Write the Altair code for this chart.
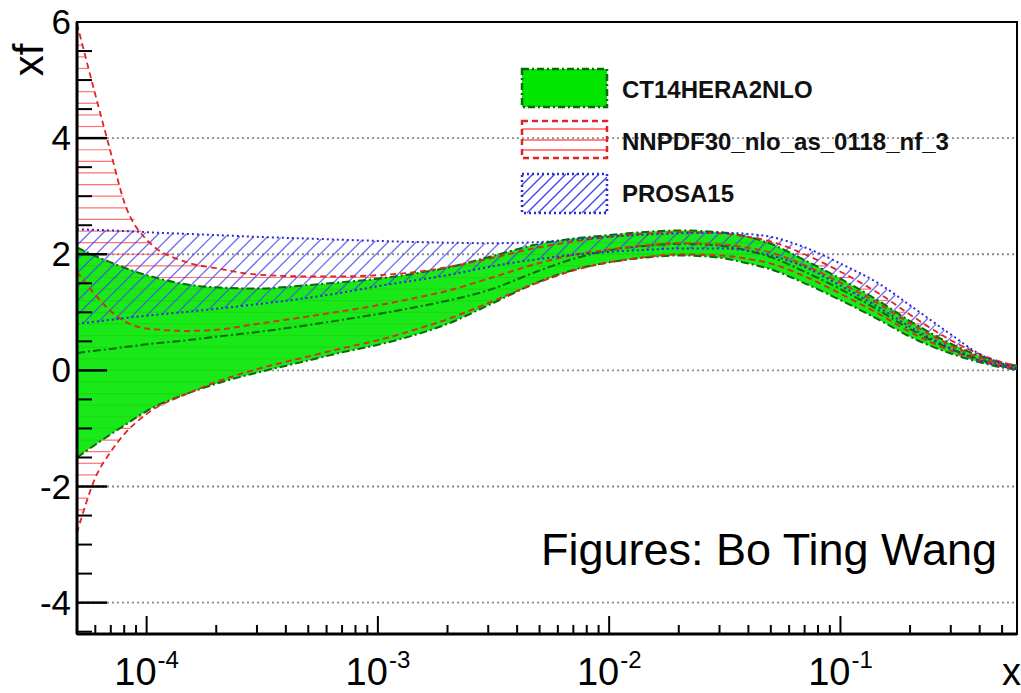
import numpy as np
import pandas as pd
import altair as alt

# ---------------- data ----------------
x_pts = [5e-5, 6e-5, 7e-5, 8e-5, 1e-4, 1.5e-4, 2e-4, 3e-4, 5e-4, 7e-4,
         1e-3, 1.5e-3, 2e-3, 3e-3, 5e-3, 7e-3, 1e-2, 1.5e-2, 2e-2, 3e-2,
         4e-2, 5e-2, 7e-2, 1e-1, 1.5e-1, 2e-1, 3e-1, 4e-1, 5e-1, 5.8e-1]

ct14_hi = [2.12, 1.97, 1.86, 1.77, 1.64, 1.48, 1.43, 1.41, 1.47, 1.52,
           1.58, 1.68, 1.77, 1.95, 2.18, 2.27, 2.33, 2.39, 2.41, 2.38,
           2.30, 2.18, 1.90, 1.58, 1.17, 0.85, 0.46, 0.25, 0.13, 0.08]
ct14_lo = [-1.50, -1.28, -1.10, -0.95, -0.70, -0.40, -0.23, -0.04, 0.17, 0.31,
           0.44, 0.63, 0.80, 1.12, 1.53, 1.73, 1.86, 1.95, 1.98, 1.94,
           1.84, 1.74, 1.50, 1.21, 0.85, 0.58, 0.29, 0.14, 0.05, 0.01]
ct14_mid = [0.30, 0.34, 0.37, 0.40, 0.45, 0.52, 0.58, 0.66, 0.78, 0.87,
            0.97, 1.10, 1.20, 1.38, 1.72, 1.92, 2.07, 2.15, 2.18, 2.15,
            2.06, 1.95, 1.70, 1.40, 1.01, 0.71, 0.37, 0.19, 0.09, 0.04]

nn_hi = [5.97, 4.75, 3.75, 2.90, 2.25, 1.86, 1.76, 1.65, 1.62, 1.62,
         1.64, 1.70, 1.78, 1.92, 2.12, 2.22, 2.30, 2.36, 2.38, 2.36,
         2.30, 2.22, 2.00, 1.70, 1.30, 0.96, 0.52, 0.28, 0.14, 0.08]
nn_lo = [-2.80, -1.85, -1.40, -1.10, -0.75, -0.40, -0.20, 0.02, 0.24, 0.38,
         0.52, 0.72, 0.88, 1.16, 1.52, 1.72, 1.86, 1.96, 2.00, 1.98,
         1.92, 1.84, 1.62, 1.32, 0.95, 0.66, 0.34, 0.17, 0.07, 0.02]
nn_mid = [1.70, 1.30, 1.02, 0.85, 0.72, 0.68, 0.70, 0.80, 0.93, 1.02,
          1.12, 1.26, 1.37, 1.58, 1.85, 1.99, 2.08, 2.16, 2.19, 2.17,
          2.11, 2.03, 1.81, 1.51, 1.12, 0.81, 0.43, 0.22, 0.10, 0.05]

pr_hi = [2.43, 2.42, 2.41, 2.40, 2.38, 2.35, 2.33, 2.30, 2.27, 2.25,
         2.23, 2.21, 2.20, 2.19, 2.21, 2.25, 2.30, 2.34, 2.36, 2.37,
         2.35, 2.30, 2.12, 1.84, 1.47, 1.12, 0.62, 0.28, 0.12, 0.05]
pr_lo = [0.80, 0.84, 0.87, 0.90, 0.94, 1.01, 1.06, 1.14, 1.25, 1.34,
         1.45, 1.56, 1.64, 1.78, 1.92, 1.99, 2.04, 2.08, 2.10, 2.10,
         2.06, 1.98, 1.78, 1.46, 1.06, 0.75, 0.38, 0.17, 0.07, 0.02]

series_names = ["CT14HERA2NLO", "NNPDF30_nlo_as_0118_nf_3", "PROSA15"]

y_label_vals = [-4, -2, 0, 2, 4, 6]
y_label_text = ["-4", "-2", "0", "2", "4", "6"]
y_grid_vals = [-4, -2, 0, 2, 4]
y_major_ticks = [-4, -2, 0, 2, 4]
y_minor_ticks = [-4.5, -3.5, -3.0, -2.5, -1.5, -1.0, -0.5, 0.5, 1.0, 1.5,
                 2.5, 3.0, 3.5, 4.5, 5.0, 5.5]
x_major_ticks = [1e-4, 1e-3, 1e-2, 1e-1]
x_exponents = ["-4", "-3", "-2", "-1"]
x_minor_ticks = [6e-5, 7e-5, 8e-5, 9e-5,
                 2e-4, 3e-4, 4e-4, 5e-4, 6e-4, 7e-4, 8e-4, 9e-4,
                 2e-3, 3e-3, 4e-3, 5e-3, 6e-3, 7e-3, 8e-3, 9e-3,
                 2e-2, 3e-2, 4e-2, 5e-2, 6e-2, 7e-2, 8e-2, 9e-2,
                 2e-1, 3e-1, 4e-1, 5e-1]

# ---------------- layout / style ----------------
X_DOMAIN = [5e-5, 0.58]
Y_DOMAIN = [-4.54, 6.0]
W, H = 940, 612
FONT = "Liberation Sans"
GREEN = "#00e600"
DKGREEN = "#0a6a0a"
RED = "#e02424"
REDHATCH = "#ff5a5a"
BLUE = "#2a2ad6"
BLUEHATCH = "#4848ee"

xs = alt.Scale(type="log", domain=X_DOMAIN, nice=False)
ys = alt.Scale(domain=Y_DOMAIN, nice=False, zero=False)


def X(f):
    return alt.X(f"{f}:Q", scale=xs, axis=None)


def Y(f):
    return alt.Y(f"{f}:Q", scale=ys, axis=None)


bands = pd.DataFrame({
    "x": x_pts,
    "ct_hi": ct14_hi, "ct_lo": ct14_lo, "ct_mid": ct14_mid,
    "nn_hi": nn_hi, "nn_lo": nn_lo, "nn_mid": nn_mid,
    "pr_hi": pr_hi, "pr_lo": pr_lo,
})

# ---------------- hatch patterns derived from the bands ----------------
U_MIN, U_MAX = np.log10(X_DOMAIN[0]), np.log10(X_DOMAIN[1])
u_fine = np.linspace(U_MIN, U_MAX, 4000)
u_pts = np.log10(x_pts)


def runs(mask):
    edges = np.flatnonzero(np.diff(np.concatenate([[0], mask.astype(int), [0]])))
    return list(zip(edges[::2], edges[1::2] - 1))


def hatch_horizontal(lo, hi, step):
    L = np.interp(u_fine, u_pts, lo)
    U = np.interp(u_fine, u_pts, hi)
    rows = []
    for yv in np.arange(np.floor(min(lo) / step) * step, max(hi) + step, step):
        for s, e in runs((L <= yv) & (U >= yv)):
            if e > s:
                rows.append({"x": 10 ** u_fine[s], "x2": 10 ** u_fine[e], "y": yv})
    return pd.DataFrame(rows)


def hatch_diagonal(lo, hi, spacing_px):
    L = np.interp(u_fine, u_pts, lo)
    U = np.interp(u_fine, u_pts, hi)
    px_per_dec = W / (U_MAX - U_MIN)
    px_per_unit = H / (Y_DOMAIN[1] - Y_DOMAIN[0])
    k = px_per_dec / px_per_unit
    dc = spacing_px / px_per_unit
    rows = []
    for c in np.arange(min(lo) - k * (U_MAX - U_MIN) - dc, max(hi) + dc, dc):
        yl = c + k * (u_fine - U_MIN)
        for s, e in runs((yl >= L) & (yl <= U)):
            if e > s:
                rows.append({"x": 10 ** u_fine[s], "y": yl[s],
                             "x2": 10 ** u_fine[e], "y2": yl[e]})
    return pd.DataFrame(rows)


red_hatch_df = hatch_horizontal(nn_lo, nn_hi, 0.2)
blue_hatch_df = hatch_diagonal(pr_lo, pr_hi, 14)

# ---------------- grid ----------------
grid = alt.Chart(pd.DataFrame({"v": y_grid_vals})).mark_rule(
    color="#8a8a8a", strokeDash=[2, 3], strokeWidth=1.8
).encode(y=Y("v"), x=alt.value(0), x2=alt.value(W))

# ---------------- bands ----------------
red_hatch = alt.Chart(red_hatch_df).mark_rule(
    color=REDHATCH, strokeWidth=1.2, opacity=0.85, clip=True
).encode(x=X("x"), x2="x2:Q", y=Y("y"))

green_area = alt.Chart(bands).mark_area(
    color=GREEN, opacity=0.9, interpolate="monotone", clip=True
).encode(x=X("x"), y=Y("ct_lo"), y2="ct_hi:Q")

blue_hatch = alt.Chart(blue_hatch_df).mark_rule(
    color=BLUEHATCH, strokeWidth=1.3, opacity=0.8, clip=True
).encode(x=X("x"), x2="x2:Q", y=Y("y"), y2="y2:Q")


def line(field, color, dash, width):
    return alt.Chart(bands).mark_line(
        color=color, strokeDash=dash, strokeWidth=width, interpolate="monotone", clip=True
    ).encode(x=X("x"), y=Y(field))


lines = [
    line("ct_hi", DKGREEN, [8, 3, 2, 3], 2),
    line("ct_lo", DKGREEN, [8, 3, 2, 3], 2),
    line("ct_mid", DKGREEN, [8, 3, 2, 3], 2),
    line("nn_hi", RED, [6, 4], 1.8),
    line("nn_lo", RED, [6, 4], 1.8),
    line("nn_mid", "#c83c14", [6, 4], 2),
    line("pr_hi", BLUE, [2, 3], 2),
    line("pr_lo", BLUE, [2, 3], 2),
]

# ---------------- axes: frame, inward ticks, labels ----------------
one = pd.DataFrame({"a": [0]})
frame_left = alt.Chart(one).mark_rule(color="black", strokeWidth=3).encode(
    x=alt.value(0), y=alt.value(0), y2=alt.value(H))
frame_bottom = alt.Chart(one).mark_rule(color="black", strokeWidth=3).encode(
    x=alt.value(0), x2=alt.value(W), y=alt.value(H))

ymaj = alt.Chart(pd.DataFrame({"v": y_major_ticks})).mark_rule(
    color="black", strokeWidth=2.5).encode(y=Y("v"), x=alt.value(0), x2=alt.value(30))
ymin = alt.Chart(pd.DataFrame({"v": y_minor_ticks})).mark_rule(
    color="black", strokeWidth=2).encode(y=Y("v"), x=alt.value(0), x2=alt.value(15))
xmaj = alt.Chart(pd.DataFrame({"v": x_major_ticks})).mark_rule(
    color="black", strokeWidth=2).encode(x=X("v"), y=alt.value(H), y2=alt.value(H - 18))
xmin = alt.Chart(pd.DataFrame({"v": x_minor_ticks})).mark_rule(
    color="black", strokeWidth=2).encode(x=X("v"), y=alt.value(H), y2=alt.value(H - 9))

ylab = alt.Chart(pd.DataFrame({"v": y_label_vals, "t": y_label_text})).mark_text(
    font=FONT, fontSize=35, align="right", baseline="middle", color="black", dx=-6, dy=1
).encode(y=Y("v"), x=alt.value(0), text="t:N")

xlab_df = pd.DataFrame({"v": x_major_ticks, "e": x_exponents})
xlab_base = alt.Chart(xlab_df).mark_text(
    text="10", font=FONT, fontSize=38, align="right", baseline="alphabetic", dx=10
).encode(x=X("v"), y=alt.value(H + 51))
xlab_exp = alt.Chart(xlab_df).mark_text(
    font=FONT, fontSize=24, align="left", baseline="alphabetic", dx=11
).encode(x=X("v"), y=alt.value(H + 34), text="e:N")

x_title = alt.Chart(one).mark_text(
    text="x", font=FONT, fontSize=38, align="left", baseline="alphabetic"
).encode(x=alt.value(925), y=alt.value(H + 51))
y_title = alt.Chart(one).mark_text(
    text="xf", font=FONT, fontSize=42, angle=270, align="center", baseline="middle"
).encode(x=alt.value(-47), y=alt.value(38))

credit = alt.Chart(one).mark_text(
    text="Figures: Bo Ting Wang", font=FONT, fontSize=45, align="right",
    baseline="alphabetic", color="black"
).encode(x=alt.value(920), y=alt.value(543))

# ---------------- legend (drawn in pixel space) ----------------
LX0, LX1 = 445, 530
g_box = alt.Chart(one).mark_rect(
    fill=GREEN, stroke=DKGREEN, strokeDash=[7, 3, 2, 3], strokeWidth=2.5
).encode(x=alt.value(LX0), x2=alt.value(LX1), y=alt.value(47), y2=alt.value(85))

r_box = alt.Chart(one).mark_rect(
    fill="white", fillOpacity=0, stroke=RED, strokeDash=[6, 4], strokeWidth=2.5
).encode(x=alt.value(LX0), x2=alt.value(LX1), y=alt.value(99), y2=alt.value(136))
r_lines_df = pd.DataFrame({"py": [107, 118, 128]})
r_lines = alt.Chart(r_lines_df).mark_rule(color=REDHATCH, strokeWidth=1.5).encode(
    y=alt.Y("py:Q", scale=None), x=alt.value(LX0), x2=alt.value(LX1))

BY0, BY1 = 152, 191
seg = []
for a in np.arange(LX0 - (BY1 - BY0), LX1, 11):
    t0 = max(0, LX0 - a)
    t1 = min(BY1 - BY0, LX1 - a)
    if t1 > t0:
        seg.append({"px": a + t0, "py": BY1 - t0, "px2": a + t1, "py2": BY1 - t1})
b_hatch = alt.Chart(pd.DataFrame(seg)).mark_rule(color=BLUEHATCH, strokeWidth=1.4).encode(
    x=alt.X("px:Q", scale=None), x2="px2:Q", y=alt.Y("py:Q", scale=None), y2="py2:Q")
b_box = alt.Chart(one).mark_rect(
    fill="white", fillOpacity=0, stroke=BLUE, strokeDash=[2, 3], strokeWidth=2.5
).encode(x=alt.value(LX0), x2=alt.value(LX1), y=alt.value(BY0), y2=alt.value(BY1))


def leg_text(i, yb):
    return alt.Chart(one).mark_text(
        text=series_names[i], font=FONT, fontSize=24, fontWeight="bold",
        align="left", baseline="alphabetic", color="#111111"
    ).encode(x=alt.value(545), y=alt.value(yb))


legend = [g_box, r_lines, r_box, b_hatch, b_box,
          leg_text(0, 76), leg_text(1, 128), leg_text(2, 180)]

chart = alt.layer(
    grid, red_hatch, green_area, blue_hatch, *lines,
    frame_left, frame_bottom, ymaj, ymin, xmaj, xmin, ylab,
    xlab_base, xlab_exp, x_title, y_title, credit, *legend
).properties(
    width=W, height=H,
    padding={"left": 77, "top": 22, "right": 4, "bottom": 59},
    autosize=alt.AutoSizeParams(type="none"),
    background="white",
).configure_view(stroke="black", strokeWidth=2)

chart.save("out.html", embed_options={"renderer": "svg", "actions": False})
